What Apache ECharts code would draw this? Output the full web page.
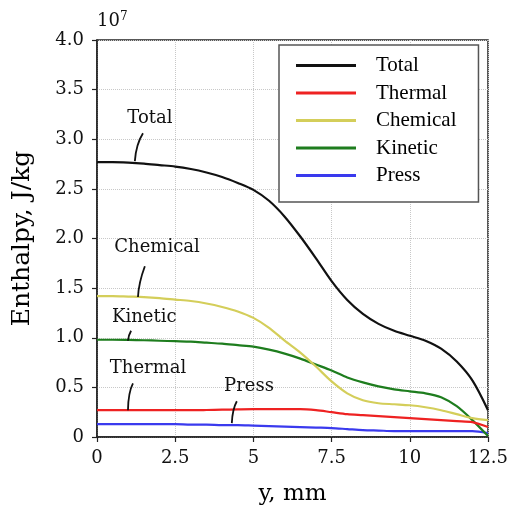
<!DOCTYPE html>
<html>
<head>
<meta charset="utf-8">
<script src="https://cdn.jsdelivr.net/npm/echarts@6/dist/echarts.min.js"></script>
<style>
  html, body { margin: 0; padding: 0; background: #fff; }
  #chart { width: 513px; height: 511px; }
</style>
</head>
<body>
<div id="chart"></div>
<script>
// y position, mm
const yPos = [0, 0.5, 1, 1.5, 2, 2.5, 3, 3.5, 4, 4.5, 5, 5.5, 6, 6.5, 7, 7.5, 8, 8.5, 9, 9.5, 10, 10.5, 11, 11.5, 12, 12.5]

// enthalpy, units of 1e7 J/kg
const total = [2.77, 2.77, 2.765, 2.755, 2.74, 2.725, 2.70, 2.665, 2.62, 2.56, 2.49, 2.38, 2.22, 2.02, 1.80, 1.57, 1.38, 1.24, 1.14, 1.07, 1.02, 0.97, 0.89, 0.76, 0.57, 0.27]
const thermal = [0.27, 0.27, 0.27, 0.27, 0.27, 0.27, 0.27, 0.272, 0.275, 0.278, 0.28, 0.28, 0.28, 0.28, 0.27, 0.25, 0.23, 0.22, 0.21, 0.20, 0.19, 0.18, 0.17, 0.16, 0.15, 0.10]
const chemical = [1.42, 1.42, 1.415, 1.41, 1.40, 1.385, 1.37, 1.345, 1.31, 1.265, 1.20, 1.10, 0.97, 0.85, 0.71, 0.56, 0.44, 0.37, 0.34, 0.33, 0.32, 0.30, 0.27, 0.23, 0.19, 0.17]
const kinetic = [0.98, 0.98, 0.978, 0.975, 0.97, 0.965, 0.96, 0.95, 0.94, 0.925, 0.91, 0.88, 0.84, 0.79, 0.73, 0.67, 0.60, 0.55, 0.51, 0.48, 0.46, 0.44, 0.40, 0.31, 0.17, 0.01]
const press = [0.13, 0.13, 0.13, 0.13, 0.13, 0.13, 0.125, 0.125, 0.12, 0.12, 0.115, 0.11, 0.105, 0.10, 0.095, 0.09, 0.08, 0.07, 0.065, 0.06, 0.06, 0.06, 0.06, 0.06, 0.06, 0.04]

const seriesNames = ['Total', 'Thermal', 'Chemical', 'Kinetic', 'Press']
const seriesColors = ['#111111', '#ee2222', '#d4ce5a', '#1e7d1e', '#3a3aee']
const seriesData = [total, thermal, chemical, kinetic, press]

// curve labels: text anchor and leader line (from, control, to) in data space
const notes = [
  { text: 'Total', at: [1.69, 3.21], from: [1.47, 3.06], ctrl: [1.25, 2.95], to: [1.21, 2.78] },
  { text: 'Chemical', at: [1.92, 1.91], from: [1.53, 1.72], ctrl: [1.33, 1.55], to: [1.31, 1.41] },
  { text: 'Kinetic', at: [1.51, 1.21], from: [1.09, 1.07], ctrl: [1.0, 1.02], to: [0.99, 0.97] },
  { text: 'Thermal', at: [1.63, 0.69], from: [1.15, 0.54], ctrl: [1.0, 0.45], to: [0.99, 0.27] },
  { text: 'Press', at: [4.86, 0.51], from: [4.47, 0.36], ctrl: [4.33, 0.28], to: [4.31, 0.14] },
]

const serif = 'DejaVu Serif'

const chart = echarts.init(document.getElementById('chart'))

const opts = {
  animation: false,
  grid: {
    left: 97,
    right: 25,
    top: 40,
    bottom: 72,
    show: true,
    borderColor: '#222',
    borderWidth: 1.5,
  },
  legend: {
    orient: 'vertical',
    left: 279,
    top: 45,
    padding: [10, 22, 16, 17],
    itemGap: 6.5,
    itemWidth: 60,
    itemHeight: 3,
    icon: 'rect',
    borderColor: '#555',
    borderWidth: 1.5,
    borderRadius: 0,
    backgroundColor: '#fff',
    textStyle: {
      fontFamily: 'Liberation Serif',
      fontSize: 21,
      color: '#000',
      lineHeight: 20,
      padding: [0, 0, 0, 15],
    },
    data: seriesNames,
  },
  xAxis: {
    type: 'value',
    min: 0,
    max: 12.5,
    interval: 2.5,
    name: 'y, mm',
    nameLocation: 'middle',
    nameGap: 46,
    nameTextStyle: { fontFamily: serif, fontSize: 23, color: '#000' },
    axisLine: { lineStyle: { color: '#222', width: 1.5 } },
    axisTick: { show: true, length: 5, lineStyle: { color: '#222', width: 1.2 } },
    axisLabel: { fontFamily: serif, fontSize: 18, color: '#111', margin: 12 },
    splitLine: { show: true, lineStyle: { color: '#c8c8c8', type: 'dotted' } },
  },
  yAxis: {
    type: 'value',
    min: 0,
    max: 4,
    interval: 0.5,
    name: 'Enthalpy, J/kg',
    nameLocation: 'middle',
    nameGap: 62,
    nameTextStyle: { fontFamily: serif, fontSize: 25, color: '#000' },
    axisLine: { lineStyle: { color: '#222', width: 1.5 } },
    axisTick: { show: true, length: 5, lineStyle: { color: '#222', width: 1.2 } },
    axisLabel: {
      fontFamily: serif,
      fontSize: 18,
      color: '#111',
      margin: 13,
      formatter: v => (v === 0 ? '0' : v.toFixed(1)),
    },
    splitLine: { show: true, lineStyle: { color: '#c8c8c8', type: 'dotted' } },
  },
  series: seriesNames.map((name, i) => ({
    name,
    type: 'line',
    data: yPos.map((x, j) => [x, seriesData[i][j]]),
    smooth: 0.3,
    showSymbol: false,
    symbol: 'none',
    lineStyle: { color: seriesColors[i], width: 2.2 },
    itemStyle: { color: seriesColors[i] },
    z: 5 - i,
  })),
}

chart.setOption(opts)

function drawNotes() {
  const px = p => chart.convertToPixel({ gridIndex: 0 }, p)
  const elements = [{
    type: 'text',
    left: 97,
    top: 11,
    style: {
      text: '10{s|7}',
      font: `18px "${serif}"`,
      fill: '#111',
      rich: { s: { fontSize: 12, verticalAlign: 'top', padding: [0, 0, 8, 0], fontFamily: serif } },
    },
  }]
  notes.forEach((n) => {
    const t = px(n.at)
    const a = px(n.from)
    const c = px(n.ctrl)
    const b = px(n.to)
    elements.push({
      type: 'text',
      x: t[0],
      y: t[1],
      style: {
        text: n.text,
        font: `18px "${serif}"`,
        fill: '#111',
        align: 'center',
        verticalAlign: 'middle',
      },
      z: 10,
    })
    elements.push({
      type: 'bezierCurve',
      shape: { x1: a[0], y1: a[1], x2: b[0], y2: b[1], cpx1: c[0], cpy1: c[1] },
      style: { stroke: '#111', lineWidth: 1.8, fill: null },
      z: 10,
    })
  })
  chart.setOption({ graphic: elements })
}

drawNotes()
</script>
</body>
</html>
